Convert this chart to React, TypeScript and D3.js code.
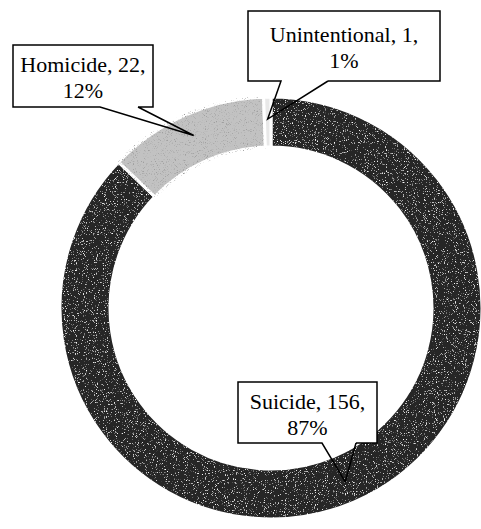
import React from "react";
import * as d3 from "d3";

const categories = ["Suicide", "Homicide", "Unintentional"];
const counts = [156, 22, 1];
const percents = ["87%", "12%", "1%"];

const W = 481;
const H = 529;
const cx = 271;
const cy = 308;
const outerR = 211;
const innerR = 161;

const fills = ["#262626", "#c2c2c2", "#e8e8e8"];
const grain = ["grainLight", "grainDark", ""];

// callout layout: box rect and pointer base x positions on bottom edge
const boxes = [
  { x: 238, y: 382, w: 139, h: 61, pl: 322, pr: 356, l1: 409, l2: 435 },
  { x: 13, y: 45, w: 140, h: 62, pl: 100, pr: 138, l1: 72, l2: 98 },
  { x: 248, y: 11, w: 192, h: 70, pl: 281, pr: 328, l1: 42, l2: 68 },
];

export default function App() {
  const data = categories.map((c, i) => ({ c, v: counts[i], p: percents[i], i }));
  const pie = d3.pie<any>().value((d) => d.v).sort(null).startAngle(0).endAngle(2 * Math.PI);
  const arcs = pie(data);
  const arc = d3.arc<any>().innerRadius(innerR).outerRadius(outerR);
  const tipArc = d3.arc<any>().innerRadius(innerR + 8).outerRadius(outerR - 2);

  return (
    <svg
      width={W}
      height={H}
      style={{ position: "absolute", left: 0, top: 0, background: "#fff" }}
      fontFamily="'Liberation Serif', 'Times New Roman', serif"
    >
      <defs>
        <filter id="grainLight" x="0" y="0" width="100%" height="100%">
          <feTurbulence type="fractalNoise" baseFrequency="0.9" numOctaves="2" seed="4" result="n" />
          <feColorMatrix in="n" type="matrix"
            values="0 0 0 0 1  0 0 0 0 1  0 0 0 0 1  5 0 0 0 -3.1" result="s" />
          <feComposite in="s" in2="SourceGraphic" operator="in" result="sc" />
          <feMerge>
            <feMergeNode in="SourceGraphic" />
            <feMergeNode in="sc" />
          </feMerge>
        </filter>
        <filter id="grainDark" x="0" y="0" width="100%" height="100%">
          <feTurbulence type="fractalNoise" baseFrequency="0.9" numOctaves="2" seed="7" result="n" />
          <feColorMatrix in="n" type="matrix"
            values="0 0 0 0 0.35  0 0 0 0 0.35  0 0 0 0 0.35  5 0 0 0 -2.9" result="s" />
          <feComposite in="s" in2="SourceGraphic" operator="in" result="sc" />
          <feMerge>
            <feMergeNode in="SourceGraphic" />
            <feMergeNode in="sc" />
          </feMerge>
        </filter>
      </defs>
      <g transform={`translate(${cx},${cy})`}>
        {arcs.map((a, i) => (
          <path
            key={i}
            d={arc(a) as string}
            fill={fills[i]}
            stroke="#fff"
            strokeWidth={3}
            filter={grain[i] ? `url(#${grain[i]})` : undefined}
          />
        ))}
      </g>
      {arcs.map((a, i) => {
        const b = boxes[i];
        const [tx, ty] = tipArc.centroid(a);
        const tipX = cx + tx;
        const tipY = cy + ty;
        const x1 = b.x + b.w;
        const y1 = b.y + b.h;
        const d = `M${b.pr},${y1}H${x1}V${b.y}H${b.x}V${y1}H${b.pl}L${tipX},${tipY}L${b.pr},${y1}`;
        const mid = b.x + b.w / 2;
        return (
          <g key={"l" + i}>
            <rect x={b.x} y={b.y} width={b.w} height={b.h} fill="#fff" />
            <path d={d} fill="none" stroke="#000" strokeWidth={1.5} strokeLinejoin="miter" />
            <text x={mid} y={b.l1} textAnchor="middle" fontSize={22} fill="#000">
              {`${a.data.c}, ${a.data.v},`}
            </text>
            <text x={mid} y={b.l2} textAnchor="middle" fontSize={22} fill="#000">
              {a.data.p}
            </text>
          </g>
        );
      })}
    </svg>
  );
}
